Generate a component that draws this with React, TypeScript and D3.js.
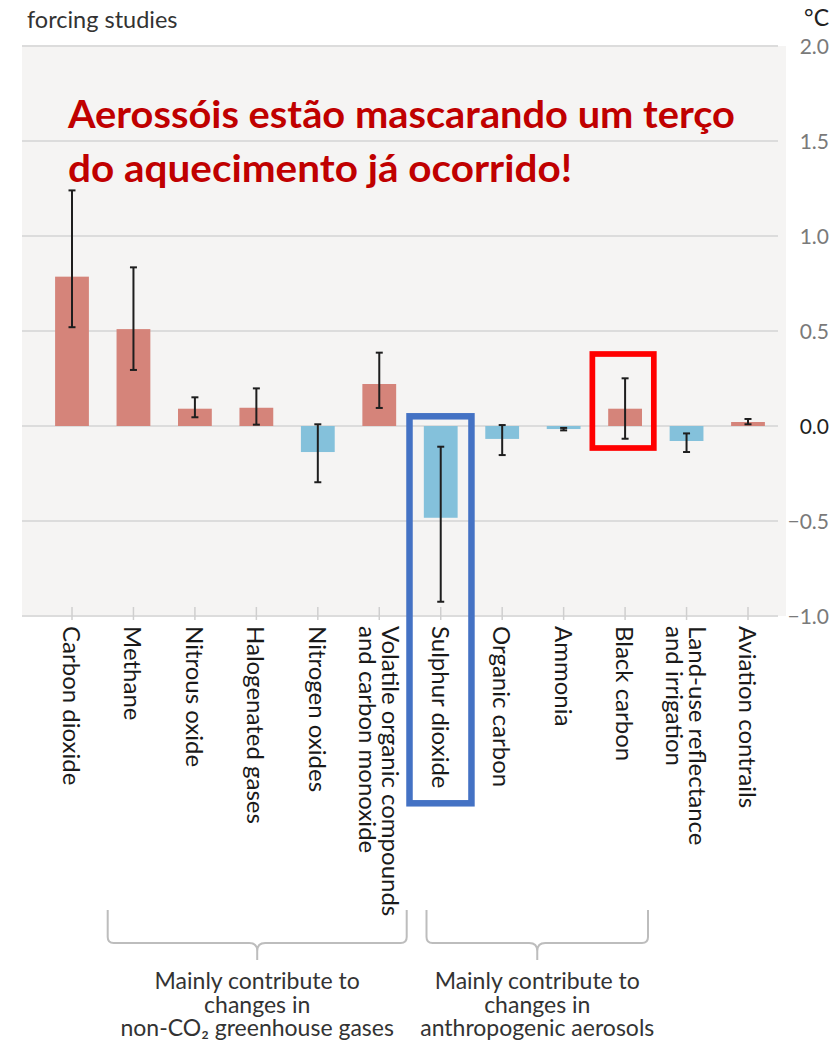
import React from "react";
import * as d3 from "d3";

const categories = [
  "Carbon dioxide",
  "Methane",
  "Nitrous oxide",
  "Halogenated gases",
  "Nitrogen oxides",
  "Volatile organic compounds|and carbon monoxide",
  "Sulphur dioxide",
  "Organic carbon",
  "Ammonia",
  "Black carbon",
  "Land-use reflectance|and irrigation",
  "Aviation contrails",
];
const values = [0.786, 0.51, 0.091, 0.096, -0.137, 0.221, -0.483, -0.068, -0.016, 0.091, -0.079, 0.021];
const errLow = [0.52, 0.295, 0.046, 0.007, -0.296, 0.095, -0.925, -0.153, -0.023, -0.067, -0.137, 0.009];
const errHigh = [1.24, 0.835, 0.151, 0.198, 0.009, 0.386, -0.109, 0.005, -0.01, 0.251, -0.039, 0.037];
const yTicks = [2.0, 1.5, 1.0, 0.5, 0.0, -0.5, -1.0];
const groupLabels = [
  ["Mainly contribute to", "changes in", "non-CO\u2082 greenhouse gases"],
  ["Mainly contribute to", "changes in", "anthropogenic aerosols"],
];
const annotationLines = ["Aerossóis estão mascarando um terço", "do aquecimento já ocorrido!"];

const W = 833;
const H = 1041;
const RED = "#d5847a";
const BLUE = "#84c1db";
const FONT = "Lato, 'Open Sans', sans-serif";

export default function App() {
  const y = d3.scaleLinear().domain([-1, 2]).range([616, 46]);
  const x = d3
    .scaleBand<string>()
    .domain(categories)
    .range([41.27, 778.73])
    .paddingInner(0.45)
    .paddingOuter(0.225);
  const bw = x.bandwidth();
  const step = x.step();
  const cx = (c: string) => (x(c) as number) + bw / 2;

  const bracket = (x0: number, x1: number) => {
    const top = 910;
    const hy = 943;
    const r = 6;
    const m = (x0 + x1) / 2;
    return [
      `M${x0},${top} L${x0},${hy - r} Q${x0},${hy} ${x0 + r},${hy}`,
      `L${m - 8},${hy} Q${m},${hy} ${m},${hy + 8} L${m},${hy + 17}`,
      `M${m},${hy + 8} Q${m},${hy} ${m + 8},${hy} L${x1 - r},${hy} Q${x1},${hy} ${x1},${hy - r} L${x1},${top}`,
    ].join(" ");
  };
  const bracketX = [
    [107.7, 406.7],
    [426.5, 648],
  ];

  return (
    <div style={{ position: "absolute", left: 0, top: 0 }}>
      <svg width={W} height={H} style={{ display: "block", background: "#fff" }}>
        {/* panel */}
        <rect x={22} y={46} width={764} height={570} fill="#f5f4f3" />
        {yTicks.map((t) => (
          <line key={"g" + t} x1={22} x2={778} y1={y(t)} y2={y(t)} stroke="#dcdcdc" strokeWidth={2} />
        ))}
        {yTicks.map((t) => (
          <text
            key={"t" + t}
            x={829}
            y={y(t)}
            dy="0.36em"
            textAnchor="end"
            fontFamily={FONT}
            fontSize={21}
            fill={t === 0 ? "#222" : "#7a7a7a"}
          >
            {d3.format(".1f")(t)}
          </text>
        ))}
        <text x={829} y={26} textAnchor="end" fontFamily={FONT} fontSize={23} fill="#222">
          °C
        </text>
        <text x={27} y={28} fontFamily={FONT} fontSize={23.5} fill="#333">
          forcing studies
        </text>

        {/* ticks */}
        {categories.map((c) => (
          <line key={"k" + c} x1={cx(c)} x2={cx(c)} y1={607} y2={620} stroke="#cfcfcf" strokeWidth={1.5} />
        ))}

        {/* bars */}
        {categories.map((c, i) => {
          const v = values[i];
          return (
            <rect
              key={"b" + c}
              x={x(c)}
              width={bw}
              y={y(Math.max(0, v))}
              height={Math.abs(y(v) - y(0))}
              fill={v >= 0 ? RED : BLUE}
            />
          );
        })}
        {/* error bars */}
        {categories.map((c, i) => {
          const xc = cx(c);
          const yl = y(errLow[i]);
          const yh = y(errHigh[i]);
          return (
            <g key={"e" + c} stroke="#1e1e1e" strokeWidth={2}>
              <line x1={xc} x2={xc} y1={yh} y2={yl} />
              <line x1={xc - 3.5} x2={xc + 3.5} y1={yh} y2={yh} />
              <line x1={xc - 3.5} x2={xc + 3.5} y1={yl} y2={yl} />
            </g>
          );
        })}

        {/* category labels */}
        {categories.map((c) => {
          const lines = c.split("|");
          const off = lines.length === 1 ? -9 : 2.5;
          return (
            <text
              key={"l" + c}
              transform={`translate(${cx(c) + off},626) rotate(90)`}
              fontFamily={FONT}
              fontSize={24}
              fill="#1a1a1a"
            >
              {lines.map((ln, j) => (
                <tspan key={j} x={0} dy={j === 0 ? 0 : 23}>
                  {ln}
                </tspan>
              ))}
            </text>
          );
        })}

        {/* brackets */}
        {bracketX.map(([a, b], i) => (
          <path key={"br" + i} d={bracket(a, b)} fill="none" stroke="#bdbdbd" strokeWidth={2} />
        ))}
        {groupLabels.map((g, i) => {
          const m = (bracketX[i][0] + bracketX[i][1]) / 2;
          return (
            <text key={"gl" + i} textAnchor="middle" fontFamily={FONT} fontSize={23} fill="#333">
              {g.map((ln, j) => (
                <tspan key={j} x={m} y={989 + j * 23.5}>
                  {ln}
                </tspan>
              ))}
            </text>
          );
        })}

        {/* annotation */}
        <text fontFamily={FONT} fontWeight="bold" fontSize={38} fill="#c00000">
          <tspan x={68} y={128} textLength={667} lengthAdjust="spacingAndGlyphs">
            {annotationLines[0]}
          </tspan>
          <tspan x={68} y={182} textLength={504} lengthAdjust="spacingAndGlyphs">
            {annotationLines[1]}
          </tspan>
        </text>

        {/* highlight boxes */}
        <rect
          x={cx("Sulphur dioxide") - step / 2 - 0.5}
          y={416.3}
          width={step + 0.5}
          height={387}
          fill="none"
          stroke="#4472c4"
          strokeWidth={6.5}
        />
        <rect
          x={cx("Black carbon") - step / 2 - 2}
          y={354}
          width={step}
          height={94}
          fill="none"
          stroke="#ff0000"
          strokeWidth={5.7}
        />
      </svg>
    </div>
  );
}
